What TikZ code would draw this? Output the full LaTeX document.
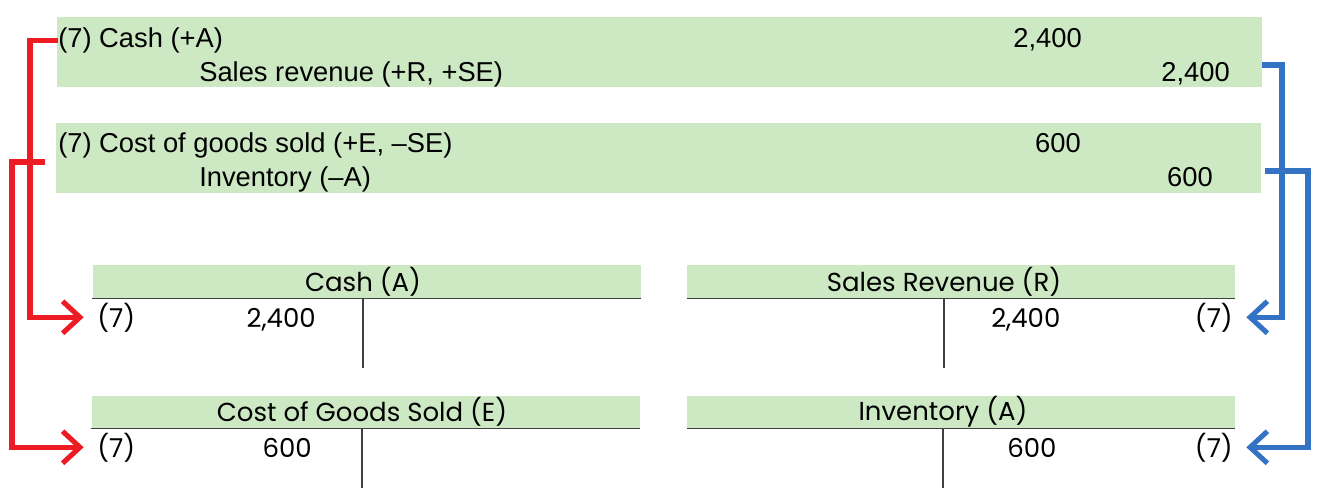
\documentclass[tikz,border=0pt]{standalone}
\usepackage{fontspec}
\setmainfont{Liberation Sans}
\newfontfamily\tfont{Poppins}
\usetikzlibrary{arrows.meta}
\definecolor{asiento}{RGB}{205,233,196}
\definecolor{rojo}{RGB}{237,28,36}
\definecolor{azul}{RGB}{52,114,196}
\begin{document}
\begin{tikzpicture}[   % opciones por defecto
  x=0.75pt, y=-0.75pt, % un pixel de la imagen
  inner sep=0pt,
  font=\fontsize{20.5}{24}\selectfont
]
  \tikzstyle{journal}=[fill=asiento, minimum width=903.75pt, minimum height=52.5pt];
  \tikzstyle{cabecera}=[fill=asiento, minimum width=411pt, minimum height=24.75pt];
  \tikzstyle{cuenta}=[font=\tfont\fontsize{19.5}{22}\selectfont];
  \tikzstyle{tline}=[draw=black!75, line width=0.9pt];
  \tikzstyle{flecharoja}=[draw=rojo, line width=3.8pt,
    -{Straight Barb[length=13pt,width=24pt]}, shorten >=10pt];
  \tikzstyle{flechaazul}=[flecharoja, draw=azul];
  \useasboundingbox (0,0) rectangle (1334,488);
  %
  % asientos del diario
  \node [journal] (j1) at (659.5,52) {};
  \node [journal] (j2) at (658.5,158) {};
  \node [anchor=base west] (cashdr) at (58,48) {(7) Cash (+A)};
  \node [anchor=base east] (cashamt) at (1082,48) {2,400};
  \node [anchor=base west] (salescr) at (199,82) {Sales revenue (+R, +SE)};
  \node [anchor=base east] (salesamt) at (1230,82) {2,400};
  \node [anchor=base west] (cogsdr) at (58,153) {(7) Cost of goods sold (+E, –SE)};
  \node [anchor=base east] (cogsamt) at (1081,153) {600};
  \node [anchor=base west] (invcr) at (199,187) {Inventory (–A)};
  \node [anchor=base east] (invamt) at (1213,187) {600};
  %
  % cuentas T
  \node [cabecera] (cashH) at (366.5,282) {};
  \node [cabecera] (salesH) at (961,282) {};
  \node [cabecera] (cogsH) at (365.5,412) {};
  \node [cabecera] (invH) at (961,412) {};
  \foreach \c in {cashH,salesH,cogsH,invH} {
    \draw[tline] (\c.south west) -- (\c.south east);
  }
  \node [cuenta] (cashN) at (363,282) {Cash (A)};
  \node [cuenta] (salesN) at (944,282) {Sales Revenue (R)};
  \node [cuenta] (cogsN) at (362,412) {Cost of Goods Sold (E)};
  \node [cuenta] (invN) at (943,412) {Inventory (A)};
  \draw[tline] (363,299) -- (363,368);
  \draw[tline] (944,299) -- (944,368);
  \draw[tline] (362,429) -- (362,488);
  \draw[tline] (943,429) -- (943,488);
  %
  % importes en las cuentas
  \node [cuenta, anchor=base west] (c7) at (97,327) {(7)};
  \node [cuenta, anchor=base east] (cashT) at (316,327) {2,400};
  \node [cuenta, anchor=base west] (salesT) at (991,327) {2,400};
  \node [cuenta, anchor=base east] (s7) at (1233,327) {(7)};
  \node [cuenta, anchor=base west] (g7) at (97,457) {(7)};
  \node [cuenta, anchor=base east] (cogsT) at (312,457) {600};
  \node [cuenta, anchor=base west] (invT) at (1007,457) {600};
  \node [cuenta, anchor=base east] (i7) at (1233,457) {(7)};
  %
  % conexiones debe
  \coordinate (r2) at (45,162);
  \draw[flecharoja] (cashdr.west) -- ++(-28,0) |- (c7.west);
  \draw[flecharoja] (r2) -- ++(-33,0) |- (g7.west);
  %
  % conexiones haber
  \coordinate (b1) at (1262,65);
  \coordinate (b2) at (1265,171);
  \draw[flechaazul] (b1) -- ++(20,0) |- (s7.east);
  \draw[flechaazul] (b2) -- ++(43,0) |- (i7.east);
\end{tikzpicture}
\end{document}
